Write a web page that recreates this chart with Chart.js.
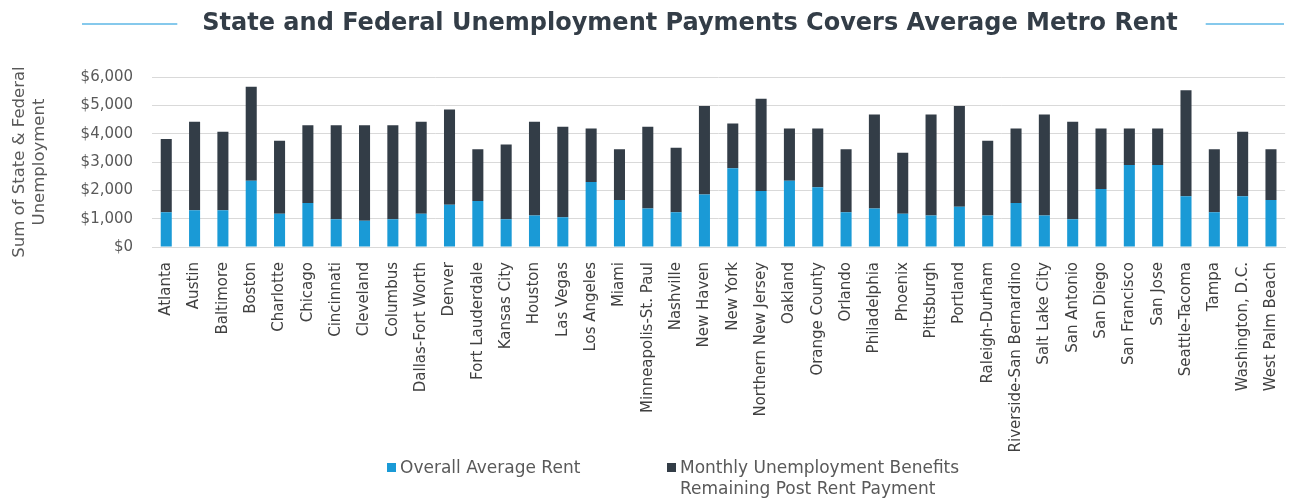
<!DOCTYPE html>
<html>
<head>
<meta charset="utf-8">
<script src="https://cdn.jsdelivr.net/npm/chart.js@4"></script>
<style>
  body { margin: 0; background: #fff; }
  #wrap { position: relative; width: 1296px; height: 500px; }
  .leg { position: absolute; font: 17px "DejaVu Sans", sans-serif; color: #595959; line-height: 21px; }
  .leg i { position: absolute; left: -13px; top: 6px; width: 9px; height: 9px; }
</style>
</head>
<body>
<div id="wrap">
  <canvas id="chart"></canvas>
  <div class="leg" style="left:400px; top:457px;"><i style="background:#1a9ad6"></i>Overall Average Rent</div>
  <div class="leg" style="left:680px; top:457px;"><i style="background:#333d47"></i>Monthly Unemployment Benefits<br>Remaining Post Rent Payment</div>
</div>
<script>
var metros = ["Atlanta", "Austin", "Baltimore", "Boston", "Charlotte", "Chicago", "Cincinnati", "Cleveland",
  "Columbus", "Dallas-Fort Worth", "Denver", "Fort Lauderdale", "Kansas City", "Houston", "Las Vegas",
  "Los Angeles", "Miami", "Minneapolis-St. Paul", "Nashville", "New Haven", "New York", "Northern New Jersey",
  "Oakland", "Orange County", "Orlando", "Philadelphia", "Phoenix", "Pittsburgh", "Portland", "Raleigh-Durham",
  "Riverside-San Bernardino", "Salt Lake City", "San Antonio", "San Diego", "San Francisco", "San Jose",
  "Seattle-Tacoma", "Tampa", "Washington, D.C.", "West Palm Beach"];

var avgRent = [1230, 1300, 1300, 2340, 1170, 1550, 980, 930, 980, 1170, 1490, 1620, 980, 1110, 1050,
  2290, 1660, 1360, 1230, 1850, 2780, 1980, 2340, 2110, 1230, 1360, 1170, 1110, 1420, 1110,
  1550, 1110, 980, 2050, 2890, 2890, 1790, 1230, 1790, 1660];

var remaining = [2580, 3120, 2770, 3320, 2580, 2750, 3320, 3370, 3320, 3250, 3360, 1830, 2640, 3310, 3190,
  1890, 1790, 2880, 2270, 3130, 1580, 3250, 1840, 2070, 2220, 3320, 2160, 3570, 3560, 2640,
  2630, 3570, 3440, 2130, 1290, 1290, 3740, 2220, 2280, 1790];

var yTicks = [0, 1000, 2000, 3000, 4000, 5000, 6000];

var chartTitle = 'State and Federal Unemployment Payments Covers Average Metro Rent';

// title text plus the blue rules either side of it
var titleBar = {
  id: 'titleBar',
  afterDraw: function(chart) {
    var ctx = chart.ctx;
    var cx = 690, y = 24;
    ctx.save();
    ctx.font = 'bold 24px "DejaVu Sans"';
    ctx.fillStyle = '#333d47';
    ctx.textAlign = 'center';
    ctx.textBaseline = 'middle';
    ctx.fillText(chartTitle, cx, y);
    var w = ctx.measureText(chartTitle).width;
    ctx.strokeStyle = '#5fb8e6';
    ctx.lineWidth = 1.5;
    ctx.beginPath();
    ctx.moveTo(82, y); ctx.lineTo(cx - w / 2 - 25, y);
    ctx.moveTo(cx + w / 2 + 28, y); ctx.lineTo(1284, y);
    ctx.stroke();
    ctx.restore();
  }
};

new Chart(document.getElementById('chart'), {
  type: 'bar',
  data: {
    labels: metros,
    datasets: [
      { label: 'Overall Average Rent', data: avgRent, backgroundColor: '#1a9ad6' },
      { label: 'Monthly Unemployment Benefits Remaining Post Rent Payment', data: remaining, backgroundColor: '#333d47' }
    ]
  },
  options: {
    responsive: true,
    maintainAspectRatio: false,
    animation: false,
    datasets: { bar: { barPercentage: 0.39, categoryPercentage: 1 } },
    layout: { padding: { top: 77, left: 6, right: 2, bottom: 48 } },
    scales: {
      x: {
        stacked: true,
        grid: { display: false },
        border: { color: '#d9d9d9' },
        ticks: { minRotation: 90, maxRotation: 90, autoSkip: false, color: '#404040',
          font: { family: 'DejaVu Sans', size: 15 }, padding: 7 },
        // long rotated names need more room than the default half-height cap
        afterFit: function(scale) { scale.height = 205; }
      },
      y: {
        stacked: true,
        min: 0, max: 6000,
        afterBuildTicks: function(axis) { axis.ticks = yTicks.map(function(v) { return { value: v }; }); },
        grid: { color: '#d9d9d9', drawTicks: false },
        border: { display: false },
        ticks: { color: '#595959', font: { family: 'DejaVu Sans', size: 15 }, padding: 19,
          callback: function(v) { return '$' + v.toLocaleString('en-US'); } },
        title: { display: true, text: ['Sum of State & Federal', 'Unemployment'], color: '#595959',
          font: { family: 'DejaVu Sans', size: 16.5, lineHeight: 1.2 }, padding: { bottom: 12 } }
      }
    },
    plugins: {
      legend: { display: false },
      tooltip: { enabled: false },
      title: { display: false }
    }
  },
  plugins: [titleBar]
});
</script>
</body>
</html>
